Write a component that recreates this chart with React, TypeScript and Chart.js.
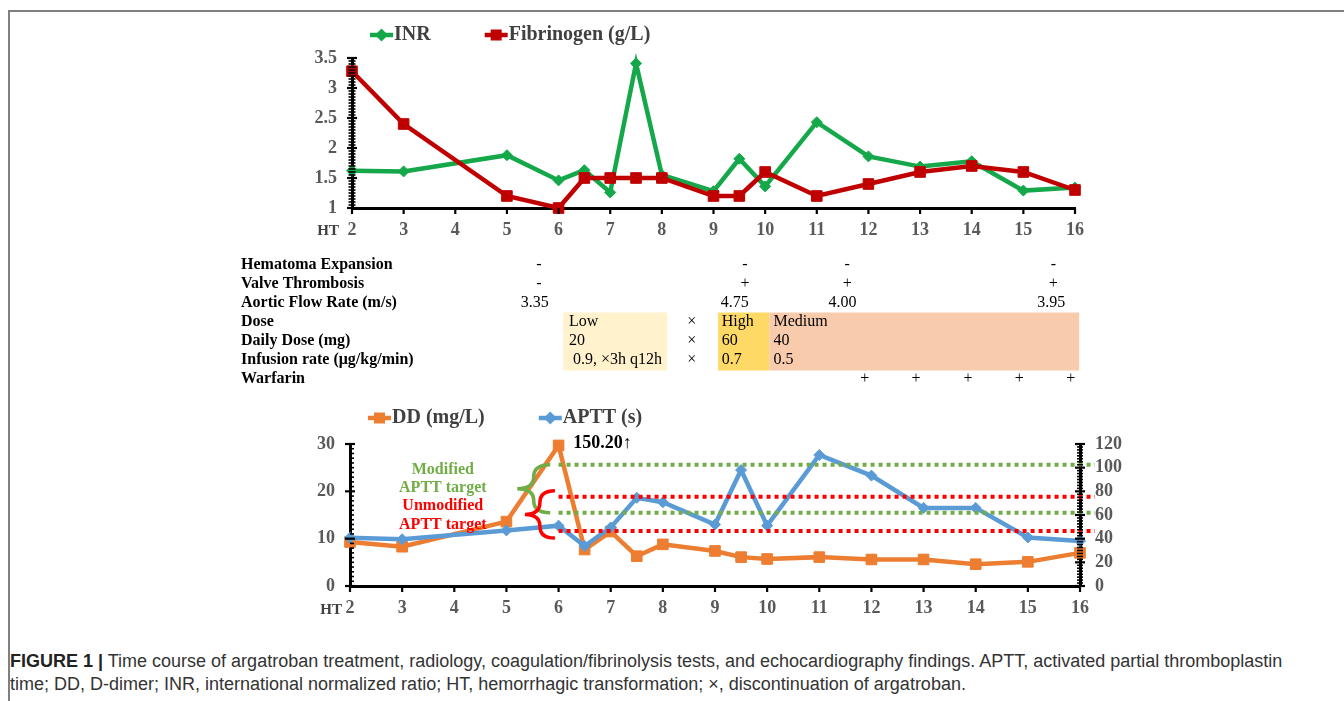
import React, { useEffect, useRef } from 'react';
import { Chart, registerables } from 'chart.js';

Chart.register(...registerables);
Chart.defaults.font.family = '"Liberation Serif", "Times New Roman", serif';

// ---------------- DATA ----------------
const days = [2, 3, 5, 6, 6.5, 7, 7.5, 8, 9, 9.5, 10, 11, 12, 13, 14, 15, 16];
const inr = [1.62, 1.61, 1.88, 1.46, 1.63, 1.26, 3.41, 1.55, 1.28, 1.82, 1.36, 2.43, 1.86, 1.69, 1.78, 1.29, 1.34];
const fibrinogen = [3.28, 2.4, 1.2, 1.0, 1.5, 1.5, 1.5, 1.5, 1.2, 1.2, 1.6, 1.2, 1.4, 1.6, 1.7, 1.6, 1.3];
const dDimer = [9.3, 8.3, 13.6, 29.7, 7.7, 11.5, 6.3, 8.8, 7.4, 6.1, 5.7, 6.1, 5.6, 5.6, 4.6, 5.1, 7.0];
const aptt = [40.7, 39.5, 47, 51, 33.8, 49.5, 74.5, 70.8, 52, 98, 51, 110.7, 93.3, 66, 66, 41, 38];

const htTicks = [2, 3, 4, 5, 6, 7, 8, 9, 10, 11, 12, 13, 14, 15, 16];
const inrAxisTicks = [1, 1.5, 2, 2.5, 3, 3.5];
const ddAxisTicks = [0, 10, 20, 30];
const apttAxisTicks = [0, 20, 40, 60, 80, 100, 120];

const modifiedTarget = [62, 102.5];
const unmodifiedTarget = [46.5, 75.5];
const targetStartDay = 6;
const apttOffscaleLabel = '150.20↑';
const offscaleDay = 6.28;

const tableRowLabels = [
  'Hematoma Expansion',
  'Valve Thrombosis',
  'Aortic Flow Rate (m/s)',
  'Dose',
  'Daily Dose (mg)',
  'Infusion rate (μg/kg/min)',
  'Warfarin',
];
const hematomaDays = [5.62, 9.61, 11.59, 15.58];
const hematomaMarks = ['-', '-', '-', '-'];
const valveDays = [5.62, 9.61, 11.59, 15.58];
const valveMarks = ['-', '+', '+', '+'];
const flowDays = [5.54, 9.41, 11.5, 15.54];
const flowRates = ['3.35', '4.75', '4.00', '3.95'];
const warfarinDays = [11.93, 12.92, 13.93, 14.92, 15.92];
const warfarinMarks = ['+', '+', '+', '+', '+'];
const doseLevels = ['Low', 'High', 'Medium'];
const dailyDoses = ['20', '60', '40'];
const infusionRates = [' 0.9, ×3h q12h', '0.7', '0.5'];
const doseStartDays = [6.09, 9.09, 10.08];
const doseEndDays = [8.1, 10.08, 16.08];
const doseTextDays = [6.2, 9.16, 10.16];
const stopDay = 8.58;
const stopMark = '×';

// ---------------- STYLES ----------------
const INR_C = '#14A84A';
const FIB_C = '#C00000';
const DD_C = '#ED7D31';
const APTT_C = '#5B9BD5';
const MOD_C = '#70AD47';
const UNMOD_C = '#FF0000';
const doseColors = ['#FFF2CC', '#FFD966', '#F8CBAD'];
const TICK_C = '#595959';
const SERIF = '"Liberation Serif", "Times New Roman", serif';

function drawMarker(ctx: any, style: string, x: number, y: number, r: number, color: string) {
  ctx.fillStyle = color;
  ctx.beginPath();
  if (style === 'rect') {
    ctx.rect(x - r, y - r, 2 * r, 2 * r);
  } else {
    ctx.moveTo(x, y - r);
    ctx.lineTo(x + r, y);
    ctx.lineTo(x, y + r);
    ctx.lineTo(x - r, y);
    ctx.closePath();
  }
  ctx.fill();
}

function drawLegend(chart: any, startX: number, y: number) {
  const ctx = chart.ctx;
  ctx.save();
  ctx.font = `bold 20px ${SERIF}`;
  ctx.textBaseline = 'middle';
  ctx.textAlign = 'left';
  let x = startX;
  chart.data.datasets.forEach((ds: any) => {
    ctx.strokeStyle = ds.borderColor;
    ctx.lineWidth = 4.5;
    ctx.beginPath();
    ctx.moveTo(x, y);
    ctx.lineTo(x + 23, y);
    ctx.stroke();
    drawMarker(ctx, ds.pointStyle, x + 11.5, y, ds.pointStyle === 'rect' ? 5.5 : 6.5, ds.borderColor);
    ctx.fillStyle = '#404040';
    ctx.fillText(ds.label, x + 24, y);
    x += 24 + ctx.measureText(ds.label).width + 54;
  });
  ctx.restore();
}

function drawTicks(chart: any, cfgs: any[]) {
  const { ctx, chartArea: a } = chart;
  ctx.save();
  ctx.strokeStyle = '#000';
  cfgs.forEach((c) => {
    const s = chart.scales[c.id];
    const n = Math.round((s.max - s.min) / c.minor);
    for (let i = 0; i <= n; i++) {
      const v = s.min + i * c.minor;
      const r = v / c.major;
      const major = Math.abs(r - Math.round(r)) < 1e-6;
      const inn = major ? c.majIn : c.minIn;
      const out = major ? c.majOut : c.minOut;
      if (!inn && !out) continue;
      ctx.lineWidth = major ? 2.2 : 1.6;
      const p = s.getPixelForValue(v);
      ctx.beginPath();
      if (c.side === 'left') {
        ctx.moveTo(a.left - out, p);
        ctx.lineTo(a.left + inn, p);
      } else if (c.side === 'right') {
        ctx.moveTo(a.right + out, p);
        ctx.lineTo(a.right - inn, p);
      } else {
        ctx.moveTo(p, a.bottom + out);
        ctx.lineTo(p, a.bottom - inn);
      }
      ctx.stroke();
    }
  });
  ctx.restore();
}

function drawHT(chart: any, dx: number, y: number) {
  const ctx = chart.ctx;
  ctx.save();
  ctx.font = `bold 15px ${SERIF}`;
  ctx.fillStyle = '#404040';
  ctx.textAlign = 'right';
  ctx.textBaseline = 'middle';
  ctx.fillText('HT', chart.chartArea.left - dx, y);
  ctx.restore();
}

function drawTable(chart: any) {
  const { ctx, chartArea: a } = chart;
  const xs = chart.scales.x;
  const rowY = (i: number) => a.bottom + 57 + i * 19;
  ctx.save();
  doseStartDays.forEach((d, i) => {
    const x0 = xs.getPixelForValue(d);
    const x1 = xs.getPixelForValue(doseEndDays[i]);
    ctx.fillStyle = doseColors[i];
    ctx.fillRect(x0, rowY(3) - 9.5, x1 - x0, rowY(5) - rowY(3) + 20);
  });
  ctx.textBaseline = 'middle';
  ctx.fillStyle = '#000';
  ctx.font = `bold 16px ${SERIF}`;
  ctx.textAlign = 'left';
  tableRowLabels.forEach((t, i) => ctx.fillText(t, a.left - 111, rowY(i)));

  ctx.font = `16px ${SERIF}`;
  ctx.textAlign = 'center';
  hematomaDays.forEach((d, i) => ctx.fillText(hematomaMarks[i], xs.getPixelForValue(d), rowY(0)));
  valveDays.forEach((d, i) => ctx.fillText(valveMarks[i], xs.getPixelForValue(d), rowY(1)));
  flowDays.forEach((d, i) => ctx.fillText(flowRates[i], xs.getPixelForValue(d), rowY(2)));
  warfarinDays.forEach((d, i) => ctx.fillText(warfarinMarks[i], xs.getPixelForValue(d), rowY(6)));
  [3, 4, 5].forEach((r) => ctx.fillText(stopMark, xs.getPixelForValue(stopDay), rowY(r)));

  ctx.textAlign = 'left';
  doseTextDays.forEach((d, i) => {
    const x = xs.getPixelForValue(d);
    ctx.fillText(doseLevels[i], x, rowY(3));
    ctx.fillText(dailyDoses[i], x, rowY(4));
    ctx.fillText(infusionRates[i], x, rowY(5));
  });
  ctx.restore();
}

function drawBrace(ctx: any, xr: number, yt: number, yb: number, depth: number) {
  const xm = xr - depth / 2;
  const xt = xr - depth;
  const h = yb - yt;
  const mid = yt + h / 2;
  ctx.beginPath();
  ctx.moveTo(xr, yt);
  ctx.quadraticCurveTo(xm, yt, xm, yt + h / 4);
  ctx.quadraticCurveTo(xm, mid, xt, mid);
  ctx.quadraticCurveTo(xm, mid, xm, mid + h / 4);
  ctx.quadraticCurveTo(xm, yb, xr, yb);
  ctx.stroke();
}

const topPlugin = {
  id: 'topExtras',
  afterDraw(chart: any) {
    drawTicks(chart, [
      { id: 'y', side: 'left', major: 0.5, minor: 0.05, majIn: 5, majOut: 5, minIn: 3.5, minOut: 3.5 },
      { id: 'x', side: 'bottom', major: 1, minor: 1, majIn: 0, majOut: 6, minIn: 0, minOut: 6 },
    ]);
    drawLegend(chart, chart.chartArea.left + 18, 35);
    drawHT(chart, 13, 231);
    drawTable(chart);
  },
};

const bottomPlugin = {
  id: 'bottomExtras',
  afterDatasetsDraw(chart: any) {
    const { ctx, chartArea: a } = chart;
    const xs = chart.scales.x;
    const y1 = chart.scales.y1;
    ctx.save();
    ctx.lineWidth = 4;
    ctx.setLineDash([4, 4]);
    const x0 = xs.getPixelForValue(targetStartDay);
    const line = (v: number, c: string) => {
      const y = y1.getPixelForValue(v);
      ctx.strokeStyle = c;
      ctx.beginPath();
      ctx.moveTo(x0, y);
      ctx.lineTo(a.right + 15, y);
      ctx.stroke();
    };
    modifiedTarget.forEach((v) => line(v, MOD_C));
    unmodifiedTarget.forEach((v) => line(v, UNMOD_C));
    ctx.setLineDash([]);

    ctx.lineWidth = 3.5;
    ctx.strokeStyle = MOD_C;
    drawBrace(ctx, xs.getPixelForValue(5.84), y1.getPixelForValue(modifiedTarget[1]), y1.getPixelForValue(modifiedTarget[0]), 33);
    ctx.strokeStyle = UNMOD_C;
    drawBrace(ctx, xs.getPixelForValue(5.93), y1.getPixelForValue(unmodifiedTarget[1] + 5), y1.getPixelForValue(unmodifiedTarget[0] - 6), 30);

    ctx.font = `bold 16px ${SERIF}`;
    ctx.textAlign = 'center';
    ctx.textBaseline = 'middle';
    const tx = xs.getPixelForValue(3.78);
    ctx.fillStyle = MOD_C;
    ctx.fillText('Modified', tx, y1.getPixelForValue(98.5));
    ctx.fillText('APTT target', tx, y1.getPixelForValue(83));
    ctx.fillStyle = UNMOD_C;
    ctx.fillText('Unmodified', tx, y1.getPixelForValue(68));
    ctx.fillText('APTT target', tx, y1.getPixelForValue(52));

    ctx.fillStyle = '#000';
    ctx.font = `bold 18px ${SERIF}`;
    ctx.textAlign = 'left';
    ctx.fillText(apttOffscaleLabel, xs.getPixelForValue(offscaleDay), y1.getPixelForValue(120) - 1);
    ctx.restore();
  },
  afterDraw(chart: any) {
    drawTicks(chart, [
      { id: 'y', side: 'left', major: 10, minor: 1, majIn: 5, majOut: 5, minIn: 4, minOut: 0 },
      { id: 'y1', side: 'right', major: 20, minor: 2.5, majIn: 5, majOut: 5, minIn: 3, minOut: 3 },
      { id: 'x', side: 'bottom', major: 1, minor: 1, majIn: 0, majOut: 6, minIn: 0, minOut: 6 },
    ]);
    drawLegend(chart, chart.chartArea.left + 18, 23);
    drawHT(chart, 8, 215);
  },
};

const tickFont = { size: 18, weight: 'bold' as const, family: SERIF };

function xAxis(h: number) {
  return {
    type: 'linear' as const,
    min: 2,
    max: 16,
    afterBuildTicks: (s: any) => {
      s.ticks = htTicks.map((v) => ({ value: v }));
    },
    afterFit: (s: any) => {
      s.height = h;
    },
    grid: { display: false, drawTicks: false },
    border: { display: true, color: '#000', width: 3 },
    ticks: { font: tickFont, color: TICK_C, padding: 12, autoSkip: false, maxRotation: 0, callback: (v: any) => String(v) },
  };
}

function yAxis(min: number, max: number, tickVals: number[], position: 'left' | 'right') {
  return {
    type: 'linear' as const,
    position,
    min,
    max,
    afterBuildTicks: (s: any) => {
      s.ticks = tickVals.map((v) => ({ value: v }));
    },
    afterFit: (s: any) => {
      s.width = 60;
    },
    grid: { display: false, drawTicks: false },
    border: { display: true, color: '#000', width: 3 },
    ticks: { font: tickFont, color: TICK_C, padding: 15, autoSkip: false, callback: (v: any) => String(v) },
  };
}

function topConfig(): any {
  return {
    type: 'line',
    data: {
      datasets: [
        {
          label: 'INR',
          data: days.map((d, i) => ({ x: d, y: inr[i] })),
          borderColor: INR_C,
          backgroundColor: INR_C,
          pointBackgroundColor: INR_C,
          pointBorderColor: INR_C,
          borderWidth: 4.5,
          pointStyle: 'rectRot',
          pointRadius: 5.5,
          pointBorderWidth: 1,
          order: 2,
          clip: false,
        },
        {
          label: 'Fibrinogen (g/L)',
          data: days.map((d, i) => ({ x: d, y: fibrinogen[i] })),
          borderColor: FIB_C,
          backgroundColor: FIB_C,
          pointBackgroundColor: FIB_C,
          pointBorderColor: FIB_C,
          borderWidth: 4.5,
          pointStyle: 'rect',
          pointRadius: 7.5,
          pointBorderWidth: 1,
          order: 1,
          clip: false,
        },
      ],
    },
    options: {
      responsive: false,
      animation: false,
      events: [],
      layout: { padding: { left: 292, right: 269, top: 58, bottom: 147 } },
      plugins: { legend: { display: false }, tooltip: { enabled: false } },
      scales: {
        x: xAxis(40),
        y: yAxis(1, 3.5, inrAxisTicks, 'left'),
      },
    },
    plugins: [topPlugin],
  };
}

function bottomConfig(): any {
  return {
    type: 'line',
    data: {
      datasets: [
        {
          label: 'DD (mg/L)',
          data: days.map((d, i) => ({ x: d, y: dDimer[i] })),
          yAxisID: 'y',
          borderColor: DD_C,
          backgroundColor: DD_C,
          pointBackgroundColor: DD_C,
          pointBorderColor: DD_C,
          borderWidth: 4.5,
          pointStyle: 'rect',
          pointRadius: 7.5,
          pointBorderWidth: 1,
          order: 2,
          clip: false,
        },
        {
          label: 'APTT (s)',
          data: days.map((d, i) => ({ x: d, y: aptt[i] })),
          yAxisID: 'y1',
          borderColor: APTT_C,
          backgroundColor: APTT_C,
          pointBackgroundColor: APTT_C,
          pointBorderColor: APTT_C,
          borderWidth: 4.5,
          pointStyle: 'rectRot',
          pointRadius: 5.5,
          pointBorderWidth: 1,
          order: 1,
          clip: false,
        },
      ],
    },
    options: {
      responsive: false,
      animation: false,
      events: [],
      layout: { padding: { left: 290, right: 204, top: 49, bottom: 9 } },
      plugins: { legend: { display: false }, tooltip: { enabled: false } },
      scales: {
        x: xAxis(35),
        y: yAxis(0, 30, ddAxisTicks, 'left'),
        y1: yAxis(0, 120, apttAxisTicks, 'right'),
      },
    },
    plugins: [bottomPlugin],
  };
}

export default function App() {
  const topRef = useRef<HTMLCanvasElement>(null);
  const botRef = useRef<HTMLCanvasElement>(null);

  useEffect(() => {
    const top = new Chart(topRef.current as HTMLCanvasElement, topConfig());
    const bot = new Chart(botRef.current as HTMLCanvasElement, bottomConfig());
    return () => {
      top.destroy();
      bot.destroy();
    };
  }, []);

  return (
    <div style={{ position: 'absolute', left: 0, top: 0, width: 1344, height: 701, overflow: 'hidden', background: '#fff' }}>
      <div
        style={{
          position: 'absolute',
          left: 8,
          top: 10,
          width: 1400,
          height: 800,
          borderTop: '2px solid #808080',
          borderLeft: '2px solid #808080',
        }}
      />
      <canvas ref={topRef} width={1344} height={395} style={{ position: 'absolute', left: 0, top: 0 }} />
      <canvas ref={botRef} width={1344} height={235} style={{ position: 'absolute', left: 0, top: 395 }} />
      <div
        style={{
          position: 'absolute',
          left: 10,
          top: 650,
          font: '18px "Liberation Sans", Arial, sans-serif',
          lineHeight: '23px',
          color: '#333',
          whiteSpace: 'nowrap',
        }}
      >
        <b style={{ color: '#222' }}>FIGURE 1 |</b> Time course of argatroban treatment, radiology, coagulation/fibrinolysis tests, and echocardiography findings. APTT, activated partial thromboplastin
        <br />
        time; DD, D-dimer; INR, international normalized ratio; HT, hemorrhagic transformation; ×, discontinuation of argatroban.
      </div>
    </div>
  );
}
